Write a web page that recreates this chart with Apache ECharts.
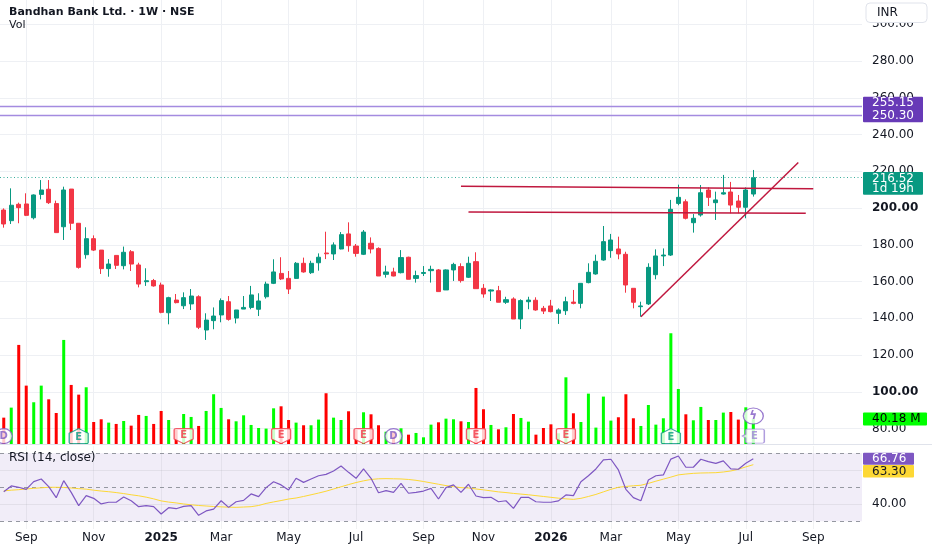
<!DOCTYPE html>
<html>
<head>
<meta charset="utf-8">
<script src="https://cdn.jsdelivr.net/npm/echarts@6/dist/echarts.min.js"></script>
<style>
html, body { margin: 0; padding: 0; background: #fff; }
#chart { width: 932px; height: 550px; }
</style>
</head>
<body>
<div id="chart"></div>
<script>
// weekly candles, first one is the week of 2024-08-05
// [open, close, low, high]
var ohlc = [
    [198.9,191.3,189.3,199.8],[193.1,201.5,191.3,210.7],[202.0,200.2,191.7,202.9],[202.2,196.0,195.6,208.0],
    [194.7,207.1,193.8,207.4],[207.4,209.8,204.7,215.2],[210.2,202.9,202.2,215.2],[202.4,186.6,186.6,204.0],
    [189.8,209.8,182.6,211.6],[210.3,191.7,188.0,210.3],[191.7,167.7,167.0,191.7],[174.6,183.3,172.4,189.5],
    [183.3,177.1,176.6,185.1],[177.1,167.0,164.1,177.1],[167.0,169.5,162.6,172.2],[174.2,168.8,166.8,174.2],
    [168.6,175.9,166.6,179.0],[176.2,169.5,165.7,177.1],[169.0,158.6,156.8,170.2],[159.9,160.4,157.6,167.2],
    [160.5,157.6,157.2,161.4],[158.1,143.2,142.7,159.4],[143.0,151.2,136.7,151.7],[149.9,148.5,148.1,153.2],
    [146.8,151.2,145.0,154.1],[147.8,152.1,144.5,155.9],[151.7,135.1,134.1,152.5],[133.6,139.0,128.2,142.7],
    [138.7,141.2,134.0,145.9],[141.8,149.6,137.8,150.8],[149.0,139.4,138.7,152.1],[140.1,144.5,137.2,144.5],
    [145.0,145.9,145.0,152.1],[145.9,152.7,144.9,157.6],[144.9,149.4,141.2,153.6],[151.7,158.6,150.7,159.9],
    [159.0,165.2,158.6,172.1],[164.4,161.4,160.8,173.2],[161.7,155.9,153.2,165.7],[161.7,169.9,161.4,170.6],
    [169.9,165.2,164.8,173.0],[164.8,169.9,164.1,171.3],[170.2,173.2,165.9,175.3],[175.5,175.1,172.2,187.1],
    [175.0,179.9,171.7,181.3],[177.7,185.5,177.5,186.9],[185.9,179.5,176.2,192.2],[179.3,175.3,173.5,180.4],
    [174.8,186.9,174.4,188.0],[180.8,177.7,175.3,184.0],[178.0,163.0,163.0,178.6],[163.9,165.2,162.1,168.6],
    [165.2,163.0,162.8,167.5],[164.8,173.0,164.4,177.1],[173.2,161.2,161.2,173.5],[161.7,163.2,159.4,165.9],
    [164.4,164.9,163.0,168.4],[165.9,166.6,159.4,168.6],[166.3,154.5,154.5,166.8],[155.4,166.3,155.4,166.6],
    [166.3,169.3,160.3,170.2],[168.1,160.5,159.4,169.9],[162.3,169.9,161.9,173.5],[170.8,156.1,156.1,175.9],
    [156.3,153.2,151.2,158.6],[154.8,155.4,149.4,155.7],[155.0,148.7,148.7,157.6],[148.7,150.1,147.8,151.7],
    [150.5,139.6,139.6,151.4],[139.6,149.6,134.1,150.3],[149.0,149.9,144.9,151.7],[149.8,144.5,144.1,151.4],
    [145.4,143.9,142.3,146.7],[146.7,143.6,143.2,150.0],[142.7,144.5,136.9,145.4],[144.1,149.0,141.8,151.7],
    [148.8,148.1,147.6,155.4],[148.1,159.0,145.4,159.0],[159.4,165.0,159.0,169.9],[164.1,171.0,163.7,174.6],
    [171.7,181.7,171.3,190.2],[176.8,182.6,172.9,185.9],[177.7,175.0,172.1,184.4],[174.8,158.1,153.9,176.2],
    [156.3,148.7,145.4,156.3],[146.3,146.7,140.9,149.0],[147.8,167.7,147.2,169.9],[163.7,173.9,161.2,177.5],
    [173.9,174.4,168.4,178.0],[174.4,199.3,173.9,204.4],[202.5,205.8,201.5,212.7],[203.4,194.4,193.8,204.7],
    [192.0,194.4,186.6,196.7],[196.2,208.3,195.3,212.5],[209.8,205.8,201.1,211.2],[202.9,204.4,193.5,208.9],
    [207.6,208.3,207.3,218.0],[208.7,201.6,197.1,214.2],[203.8,200.4,197.1,207.1],[200.4,209.8,194.4,211.2],
    [207.6,216.52,206.2,220.7]
];
// volume, millions
var volume = [
    42.3,58.2,157.7,93.1,66.7,93.1,71.4,49.7,165.6,94.2,78.8,90.5,35.4,39.7,34.4,32.3,37.0,29.6,46.6,45.0,
    32.3,52.9,38.6,22.8,48.1,43.4,29.1,52.9,79.4,57.7,39.7,36.5,46.0,30.7,25.9,24.9,57.1,60.3,38.6,34.4,
    30.2,30.2,39.2,81.0,42.3,38.6,52.4,22.8,50.8,47.6,30.2,20.0,20.0,25.4,15.3,18.0,11.1,31.2,34.9,40.7,
    39.7,36.5,35.4,89.4,55.6,30.7,23.8,27.0,48.1,41.8,36.0,15.3,25.9,31.7,17.5,106.3,49.2,35.4,80.4,26.5,
    75.7,37.6,42.9,79.4,41.3,29.1,62.4,31.2,41.3,176.2,87.8,47.6,38.1,59.3,38.6,38.6,50.3,51.3,39.2,58.7,
    40.18
];
// RSI (14, close)
var rsi = [
    47.4,50.8,50.0,48.8,53.3,54.9,50.4,43.9,53.9,47.0,39.2,45.1,43.5,40.2,41.2,41.2,44.3,42.1,38.6,39.2,
    38.6,34.3,38.0,37.4,38.8,39.2,33.5,36.1,37.2,42.1,38.2,41.5,42.3,46.1,44.5,49.8,53.3,51.4,48.4,55.3,
    52.9,54.9,56.8,57.6,59.6,62.5,58.8,55.3,60.8,55.3,46.8,48.0,47.0,52.3,46.5,47.0,47.8,49.4,43.1,49.8,
    51.4,47.0,51.8,44.9,43.9,44.1,41.5,42.1,37.6,44.1,44.1,41.5,41.2,41.2,42.0,45.5,45.1,53.3,56.8,60.8,
    66.1,66.5,60.2,48.8,43.9,42.1,54.3,56.8,57.3,66.6,68.4,61.8,61.8,66.5,65.1,64.1,65.5,60.8,60.6,64.1,
    66.76
];
// RSI-based MA
var rsiMa = [
    47.9,48.3,48.6,49.0,49.4,49.7,50.0,50.0,49.9,49.6,49.2,48.9,48.3,47.8,47.4,46.9,46.3,45.6,45.0,44.2,
    43.2,42.0,41.3,40.8,40.2,39.7,39.3,39.0,38.7,38.5,38.3,38.2,38.4,38.6,39.3,40.5,41.4,42.2,43.1,43.7,
    44.6,45.6,46.6,47.7,49.0,50.3,51.6,52.8,53.8,54.6,55.0,55.1,55.0,54.9,54.6,54.1,53.4,52.6,51.8,51.0,
    50.4,49.8,49.6,49.0,48.5,47.9,47.3,46.9,46.4,46.0,45.6,45.1,44.6,44.1,43.6,43.2,42.9,43.5,44.6,45.8,
    47.3,48.8,50.0,50.5,50.9,51.2,52.3,53.6,54.8,56.0,57.3,57.8,58.2,58.4,58.5,58.6,59.0,59.6,60.6,62.0,
    63.3
];
var dividendWeeks = [0, 52];
var earnings = [[10,'up'],[24,'down'],[37,'down'],[48,'down'],[63,'down'],[75,'down'],[89,'up'],[100,'next']];
var levels = [255.15, 250.30];
var lastPrice = 216.52;
var trendLines = [
    [[85, 140.8], [106, 224.8]],
    [[61, 211.9], [108, 210.5]],
    [[62, 197.8], [107, 197.1]]
];
var monthNames = ['Jan','Feb','Mar','Apr','May','Jun','Jul','Aug','Sep','Oct','Nov','Dec'];

var UP = '#089981', DOWN = '#f23645', TXT = '#131722', GRIDC = '#eef0f4';
var FONT = 'DejaVu Sans';

// weekly categories
var t0 = Date.UTC(2024, 7, 5), DAY = 864e5, nWeeks = 115;
var weeks = [];
for (var i = 0; i < nWeeks; i++) {
    weeks.push(new Date(t0 + i * 7 * DAY).toISOString().slice(0, 10));
}
// week holding the 1st of an odd month (Jan shows the year)
function monthMark(idx) {
    var d = new Date(t0 + idx * 7 * DAY);
    var e = new Date(t0 + (idx * 7 + 6) * DAY);
    var m = -1, y;
    if (d.getUTCDate() === 1) { m = d.getUTCMonth(); y = d.getUTCFullYear(); }
    else if (e.getUTCMonth() !== d.getUTCMonth()) { m = e.getUTCMonth(); y = e.getUTCFullYear(); }
    if (m < 0 || m % 2 !== 0) return null;
    return m === 0 ? '{y|' + y + '}' : monthNames[m];
}
var monthIdx = [];
for (var i = 0; i < nWeeks; i++) if (monthMark(i)) monthIdx.push(i);

var volData = volume.map(function (v, i) {
    return { value: v, itemStyle: { color: ohlc[i][1] >= ohlc[i][0] ? '#00ff00' : '#ff0000' } };
});

var ePathUp = 'path://M0,4 L5,0 L10,4 L10,12 Q10,13 9,13 L1,13 Q0,13 0,12 Z';
var ePathDown = 'path://M0,1 Q0,0 1,0 L9,0 Q10,0 10,1 L10,9 L5,13 L0,9 Z';
var ePathNext = 'path://M3,0 L12,0 Q13,0 13,1 L13,10 Q13,11 12,11 L3,11 Q2,11 2,10 L2,7 L0,5.5 L2,4 L2,1 Q2,0 3,0 Z';
var markerData = [];
earnings.forEach(function (e) {
    var col = e[1] === 'up' ? UP : (e[1] === 'down' ? DOWN : '#9c84d6');
    markerData.push({
        value: [e[0], 13],
        symbol: e[1] === 'up' ? ePathUp : (e[1] === 'down' ? ePathDown : ePathNext),
        symbolSize: e[1] === 'next' ? [22, 14] : [19, 15],
        itemStyle: { color: '#fff', borderColor: col, borderWidth: 1.2 },
        label: { show: true, formatter: 'E', color: col, fontSize: 10, fontWeight: 'bold', fontFamily: FONT,
                 offset: e[1] === 'up' ? [0, 1] : (e[1] === 'down' ? [0, -1] : [1, 0]) }
    });
});
dividendWeeks.forEach(function (w) {
    markerData.push({
        value: [w, 13], symbol: 'circle', symbolSize: [17, 15],
        itemStyle: { color: '#fff', borderColor: '#7e57c2', borderWidth: 1.2 },
        label: { show: true, formatter: 'D', color: '#7e57c2', fontSize: 10, fontWeight: 'bold', fontFamily: FONT }
    });
});
markerData.push({
    value: [100, 45], symbol: 'circle', symbolSize: [20, 16],
    itemStyle: { color: '#fff', borderColor: '#7e57c2', borderWidth: 1.2 },
    label: { show: true, formatter: 'ϟ', color: '#7e57c2', fontSize: 12, fontWeight: 'bold', fontFamily: FONT }
});

function catAxis(grid, labels) {
    return {
        type: 'category', gridIndex: grid, data: weeks, boundaryGap: true,
        axisLine: { show: false }, axisTick: { show: false }, splitLine: { show: false },
        axisLabel: labels ? {
            show: true, margin: 3, color: TXT, fontSize: 12, fontFamily: FONT,
            interval: function (idx) { return monthMark(idx) !== null; },
            formatter: function (v, idx) { return monthMark(idx) || ''; },
            rich: { y: { fontWeight: 'bold', fontSize: 12, color: TXT, fontFamily: FONT } }
        } : { show: false }
    };
}

var vLines = monthIdx.map(function (i) { return { xAxis: i }; });

var option = {
    animation: false,
    backgroundColor: '#fff',
    grid: [
        { left: 0, width: 862, top: 24.25, height: 404.25 },
        { left: 0, width: 862, top: 0, height: 444.3 },
        { left: 0, width: 862, top: 446, height: 83 }
    ],
    xAxis: [catAxis(0, false), catAxis(1, false), catAxis(2, true)],
    yAxis: [
        {
            type: 'value', gridIndex: 0, position: 'right', min: 80, max: 300, interval: 20,
            axisLine: { show: false }, axisTick: { show: false },
            splitLine: { lineStyle: { color: GRIDC } },
            axisLabel: {
                margin: 10, color: TXT, fontSize: 12, fontFamily: FONT,
                formatter: function (v) { return (v === 100 || v === 200) ? '{b|' + v.toFixed(2) + '}' : v.toFixed(2); },
                rich: { b: { fontWeight: 'bold', fontSize: 12, color: TXT, fontFamily: FONT } }
            }
        },
        { type: 'value', gridIndex: 1, min: 0, max: 705, show: false },
        {
            type: 'value', gridIndex: 2, position: 'right', min: 25.47, max: 74.29,
            axisLine: { show: false }, axisTick: { show: false }, splitLine: { show: false },
            axisLabel: {
                margin: 10, color: TXT, fontSize: 12, fontFamily: FONT, showMinLabel: false, showMaxLabel: false,
                formatter: function (v) { return v === 40 ? v.toFixed(2) : ''; }
            }
        }
    ],
    series: [
        {
            name: 'Vol', type: 'bar', xAxisIndex: 1, yAxisIndex: 1, data: volData, barWidth: 3, z: 2,
            markLine: {
                silent: true, z: 1, symbol: ['none', 'none'], label: { show: false },
                lineStyle: { color: GRIDC, width: 1, type: 'solid' }, data: vLines
            }
        },
        {
            name: 'Price', type: 'candlestick', xAxisIndex: 0, yAxisIndex: 0, data: ohlc, barWidth: 4.6, z: 5,
            itemStyle: { color: UP, color0: DOWN, borderColor: UP, borderColor0: DOWN, borderWidth: 1 },
            markLine: {
                silent: true, z: 8, symbol: ['none', 'none'], label: { show: false },
                data: [
                    { yAxis: levels[0], lineStyle: { color: '#a48be0', width: 1.3, type: 'solid' } },
                    { yAxis: levels[1], lineStyle: { color: '#a48be0', width: 1.3, type: 'solid' } },
                    { yAxis: lastPrice, lineStyle: { color: '#3aae9c', width: 1, type: [1, 2.5] } }
                ].concat(trendLines.map(function (t) {
                    return [{ coord: t[0], lineStyle: { color: '#c0183f', width: 1.5, type: 'solid' } }, { coord: t[1] }];
                }))
            }
        },
        {
            name: 'Events', type: 'scatter', xAxisIndex: 1, yAxisIndex: 1, data: markerData, z: 6, silent: true
        },
        {
            name: 'RSI', type: 'line', xAxisIndex: 2, yAxisIndex: 2, data: rsi, symbol: 'none', z: 4,
            lineStyle: { color: '#7e57c2', width: 1.2 },
            markArea: {
                silent: true, z: 1, itemStyle: { color: 'rgba(126,87,194,0.11)' },
                data: [[{ yAxis: 30 }, { yAxis: 70 }]]
            },
            markLine: {
                silent: true, z: 2, symbol: ['none', 'none'], label: { show: false },
                data: [
                    { yAxis: 70, lineStyle: { color: '#9598a1', width: 1, type: [4, 4] } },
                    { yAxis: 50, lineStyle: { color: '#9598a1', width: 1, type: [4, 4] } },
                    { yAxis: 30, lineStyle: { color: '#9598a1', width: 1, type: [4, 4] } },
                    { yAxis: 60, lineStyle: { color: 'rgba(120,123,134,0.12)', width: 1, type: 'solid' } },
                    { yAxis: 40, lineStyle: { color: 'rgba(120,123,134,0.12)', width: 1, type: 'solid' } }
                ].concat(monthIdx.map(function (i) {
                    return { xAxis: i, lineStyle: { color: 'rgba(120,123,134,0.1)', width: 1, type: 'solid' } };
                }))
            }
        },
        {
            name: 'RSI MA', type: 'line', xAxisIndex: 2, yAxisIndex: 2, data: rsiMa, symbol: 'none', z: 3,
            lineStyle: { color: '#fdd835', width: 1 }
        }
    ]
};

var chart = echarts.init(document.getElementById('chart'));
chart.setOption(option);

function py(v) { return chart.convertToPixel({ yAxisIndex: 0 }, v); }
function vy(v) { return chart.convertToPixel({ yAxisIndex: 1 }, v); }
function ry(v) { return chart.convertToPixel({ yAxisIndex: 2 }, v); }

// price tag on the right scale
function tag(x, y, w, h, fill, texts, color) {
    var kids = [{ type: 'rect', z: 100, shape: { x: 0, y: 0, width: w, height: h, r: 1 }, style: { fill: fill } }];
    texts.forEach(function (t) {
        kids.push({ type: 'text', z: 101, x: 9, y: t[1], style: { text: t[0], fill: color, font: '12px ' + FONT, verticalAlign: 'middle' } });
    });
    return { type: 'group', x: x, y: y, z: 100, children: kids };
}

var yHi = py(levels[0]), yLo = py(levels[1]), yLast = py(lastPrice);
var yVol = vy(volume[volume.length - 1]);
var yRsi = ry(rsi[rsi.length - 1]);

chart.setOption({
    graphic: [
        { type: 'text', x: 9, y: 12, z: 100, style: { text: 'Bandhan Bank Ltd. · 1W · NSE', font: 'bold 11px ' + FONT, fill: TXT, verticalAlign: 'middle' } },
        { type: 'text', x: 9, y: 25, z: 100, style: { text: 'Vol', font: '11px ' + FONT, fill: TXT, verticalAlign: 'middle' } },
        { type: 'text', x: 9, y: 458, z: 100, style: { text: 'RSI (14, close)', font: '12px ' + FONT, fill: TXT, verticalAlign: 'middle' } },
        { type: 'rect', z: 100, shape: { x: 866, y: 3, width: 61, height: 19.5, r: 4 }, style: { fill: '#fff', stroke: '#e0e3eb', lineWidth: 1 } },
        { type: 'text', x: 877, y: 12.5, z: 101, style: { text: 'INR', font: '12px ' + FONT, fill: TXT, verticalAlign: 'middle' } },
        { type: 'line', z: 50, shape: { x1: 0, y1: 444.5, x2: 932, y2: 444.5 }, style: { stroke: '#e0e3eb', lineWidth: 1 } },
        tag(863, yHi - 10, 60, yLo - yHi + 16.7, '#673ab7', [[levels[0].toFixed(2), 6.6], [levels[1].toFixed(2), yLo - yHi + 10]], '#fff'),
        tag(863, yLast - 5.6, 60, 22.6, UP, [[lastPrice.toFixed(2), 6.6], ['1d 19h', 16.6]], '#fff'),
        tag(863, yVol - 6.5, 64, 13, '#00ff00', [[volume[volume.length - 1].toFixed(2) + ' M', 6.5]], '#000'),
        tag(863, yRsi - 6, 51, 12, '#7e57c2', [[rsi[rsi.length - 1].toFixed(2), 6]], '#fff'),
        tag(863, yRsi + 6.3, 51, 12.5, '#fdd835', [[rsiMa[rsiMa.length - 1].toFixed(2), 6.3]], TXT)
    ]
});
</script>
</body>
</html>
